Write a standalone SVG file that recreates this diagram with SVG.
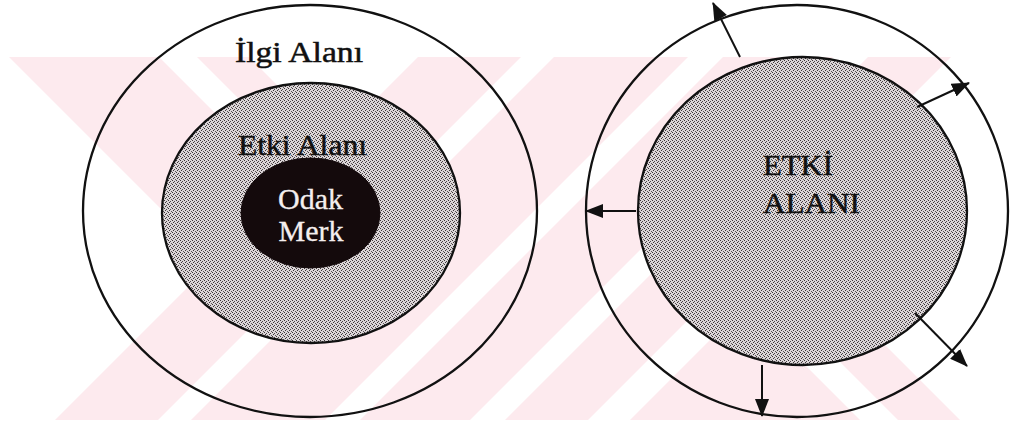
<svg xmlns="http://www.w3.org/2000/svg" width="1011" height="424" viewBox="0 0 1011 424">
  <style>
    .ring { fill: none; stroke: #111; stroke-width: 2.3; }
    .zone { fill: url(#dither); stroke: #111; stroke-width: 2.3; }
    .core { fill: #140a0c; stroke: #140a0c; stroke-width: 1; }
    .lbl { font-family: "Liberation Serif", "Times New Roman", serif; font-size: 30px; fill: #111; stroke: #111; stroke-width: 0.5; }
    .lblw { font-family: "Liberation Serif", "Times New Roman", serif; font-size: 30px; fill: #f4eeee; stroke: #f4eeee; stroke-width: 0.3; text-anchor: middle; }
    .wm { fill: #fdeaee; }
    .arrow { fill: none; stroke: #111; stroke-width: 2; marker-end: url(#head); }
  </style>
  <defs>
    <pattern id="dither" patternUnits="userSpaceOnUse" x="0" y="0" width="4" height="4">
      <rect width="4" height="4" fill="#dcd6d8"/>
      <rect x="0" y="0" width="1" height="1" fill="#3a3436"/>
      <rect x="2" y="1" width="1" height="1" fill="#4a4446"/>
      <rect x="1" y="2" width="1" height="1" fill="#3a3436"/>
      <rect x="3" y="3" width="1" height="1" fill="#5a5456"/>
    </pattern>
    <marker id="head" markerUnits="userSpaceOnUse" markerWidth="18" markerHeight="14" refX="17" refY="7" orient="auto">
      <path d="M0,0 L18,7 L0,14 z" fill="#111"/>
    </marker>
    <clipPath id="wmbox"><rect x="8" y="57" width="992" height="363"/></clipPath>
    <clipPath id="leftArm"><polygon points="0,0 475,0 0,475"/></clipPath>
    <clipPath id="rightArm"><polygon points="993,57 1011,57 1011,424 626,424"/></clipPath>
  </defs>

  <rect width="1011" height="424" fill="#ffffff"/>

  <!-- background watermark -->
  <g id="watermark" clip-path="url(#wmbox)">
    <g clip-path="url(#leftArm)">
      <polygon class="wm" points="9,57 159,57 288.5,186.5 213.5,261.5"/>
      <polygon class="wm" points="197,57 249,57 333.5,141.5 307.5,167.5"/>
    </g>
    <polygon class="wm" points="418,57 521,57 158,420 55,420"/>
    <polygon class="wm" points="554,57 688,57 325,420 191,420"/>
    <polygon class="wm" points="723,57 833,57 470,420 360,420"/>
    <polygon class="wm" points="868,57 951,57 588,420 505,420"/>
    <g clip-path="url(#rightArm)">
      <polygon class="wm" points="207,57 497,57 860,420 570,420"/>
      <polygon class="wm" points="535,57 597,57 960,420 898,420"/>
    </g>
  </g>

  <!-- left diagram -->
  <g id="ilgi-alani">
    <ellipse class="ring" cx="310" cy="211" rx="227" ry="206"/>
    <text class="lbl" x="235" y="62" textLength="128" lengthAdjust="spacingAndGlyphs">İlgi Alanı</text>
  </g>
  <g id="etki-alani">
    <ellipse class="zone" cx="311" cy="213" rx="149" ry="130"/>
    <text class="lbl" x="238" y="155" textLength="129" lengthAdjust="spacingAndGlyphs">Etki Alanı</text>
  </g>
  <g id="odak-merk">
    <ellipse class="core" cx="310.5" cy="213" rx="69.5" ry="55"/>
    <text class="lblw" x="310.5" y="209">Odak</text>
    <text class="lblw" x="311" y="241">Merk</text>
  </g>

  <!-- right diagram -->
  <g id="dis-alan">
    <ellipse class="ring" cx="797" cy="211" rx="211" ry="206"/>
  </g>
  <g id="etki-alani-2">
    <ellipse class="zone" cx="802.5" cy="211" rx="164.5" ry="154"/>
    <text class="lbl" x="763" y="175" textLength="70" lengthAdjust="spacingAndGlyphs">ETKİ</text>
    <text class="lbl" x="763" y="213" textLength="97" lengthAdjust="spacingAndGlyphs">ALANI</text>
  </g>

  <g id="connectors">
    <line class="arrow" x1="740" y1="57" x2="713" y2="3"/>
    <line class="arrow" x1="917" y1="107" x2="969" y2="83"/>
    <line class="arrow" x1="636" y1="211" x2="586" y2="211"/>
    <line class="arrow" x1="915" y1="313" x2="967" y2="366"/>
    <line class="arrow" x1="762" y1="365" x2="762" y2="416"/>
  </g>
</svg>
